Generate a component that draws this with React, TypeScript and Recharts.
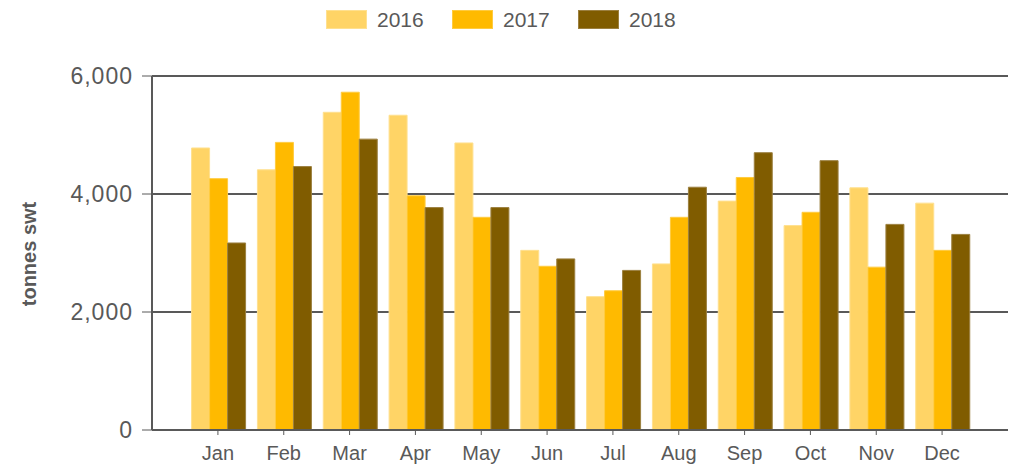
import { BarChart, Bar, XAxis, YAxis, CartesianGrid, Legend, Label } from 'recharts'

const months = ['Jan', 'Feb', 'Mar', 'Apr', 'May', 'Jun', 'Jul', 'Aug', 'Sep', 'Oct', 'Nov', 'Dec']
const values2016 = [4780, 4410, 5385, 5335, 4865, 3045, 2260, 2815, 3880, 3465, 4105, 3845]
const values2017 = [4260, 4875, 5725, 3970, 3605, 2775, 2360, 3605, 4280, 3690, 2760, 3045]
const values2018 = [3170, 4465, 4930, 3770, 3770, 2900, 2705, 4115, 4700, 4565, 3485, 3315]
const yTicks = [0, 2000, 4000, 6000]

const series = [
  { key: 'y2016', name: '2016', color: '#FFD466', edge: '#FFE08F' },
  { key: 'y2017', name: '2017', color: '#FFBA00', edge: '#FFCB40' },
  { key: 'y2018', name: '2018', color: '#805C00', edge: '#9C8040' },
]

const data = months.map((m, i) => ({
  month: m,
  y2016: values2016[i],
  y2017: values2017[i],
  y2018: values2018[i],
}))

const GREY = '#595959'

// legend sits left of centre in the original, so it's drawn by hand
function YearLegend() {
  return (
    <div style={{ display: 'flex', alignItems: 'center' }}>
      {series.map(s => (
        <div key={s.key} style={{ display: 'flex', alignItems: 'center', width: 126 }}>
          <span
            style={{
              display: 'inline-block',
              width: 41,
              height: 19,
              background: s.color,
              boxSizing: 'border-box',
              border: `1px solid ${s.edge}`,
              marginRight: 10,
            }}
          />
          <span style={{ fontSize: 21, color: GREY, whiteSpace: 'nowrap', lineHeight: '19px' }}>
            {s.name}
          </span>
        </div>
      ))}
    </div>
  )
}

export default function App() {
  return (
    <div
      style={{
        position: 'absolute',
        left: 0,
        top: 0,
        width: 1022,
        height: 468,
        background: '#fff',
        fontFamily: '"Liberation Sans", Arial, sans-serif',
      }}
    >
      <BarChart
        width={1022}
        height={468}
        data={data}
        margin={{ top: 76, right: 14, bottom: 0, left: 0 }}
        barCategoryGap="10%"
        barGap={0}
      >
        <CartesianGrid vertical={false} stroke={GREY} strokeWidth={2} />
        <XAxis
          dataKey="month"
          height={38}
          padding={{ left: 33, right: 33 }}
          axisLine={{ stroke: GREY, strokeWidth: 2 }}
          tickLine={{ stroke: GREY }}
          tickSize={5}
          tickMargin={11}
          tick={{ fill: GREY, fontSize: 20 }}
          interval={0}
        />
        <YAxis
          width={152}
          domain={[0, 6000]}
          ticks={yTicks}
          tickFormatter={(v: number) => v.toLocaleString('en-US')}
          axisLine={{ stroke: GREY, strokeWidth: 2 }}
          tickLine={{ stroke: GREY }}
          tickSize={10}
          tickMargin={9}
          tick={{ fill: GREY, fontSize: 23, letterSpacing: 1 }}
        >
          <Label
            content={() => (
              <text
                x={29}
                y={254}
                transform="rotate(-90 29 254)"
                textAnchor="middle"
                dominantBaseline="central"
                fill={GREY}
                fontSize={20}
                fontWeight="bold"
              >
                tonnes swt
              </text>
            )}
          />
        </YAxis>
        <Legend
          layout="horizontal"
          verticalAlign="middle"
          align="center"
          content={() => <YearLegend />}
          wrapperStyle={{ position: 'absolute', top: 10, left: 326, width: 'auto' }}
        />
        {series.map(s => (
          <Bar
            key={s.key}
            dataKey={s.key}
            name={s.name}
            fill={s.color}
            stroke={s.edge}
            strokeWidth={1}
            isAnimationActive={false}
          />
        ))}
      </BarChart>
    </div>
  )
}
